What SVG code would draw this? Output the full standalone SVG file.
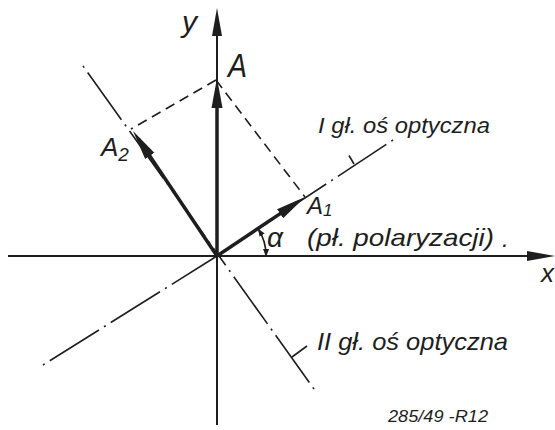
<svg xmlns="http://www.w3.org/2000/svg" width="555" height="430" viewBox="0 0 555 430">
<defs>
<style>
.ax{stroke:#1e1e1e;stroke-width:2;fill:none}
.dd{stroke:#1e1e1e;stroke-width:1.6;fill:none;stroke-dasharray:2 6 58 6}
.pr{stroke:#1e1e1e;stroke-width:1.6;fill:none;stroke-dasharray:10 6}
.vec{stroke:#1e1e1e;stroke-width:3.5;fill:none}
.tk{stroke:#1e1e1e;stroke-width:1.6;fill:none}
text{font-family:"Liberation Sans",Arial,sans-serif;font-style:italic;fill:#1e1e1e}
</style>
<marker id="vh" markerUnits="userSpaceOnUse" viewBox="0 0 30 12" refX="20" refY="6" markerWidth="30" markerHeight="12" orient="auto">
<path d="M0,0.5 L30,6 L0,11.5 Z" fill="#1e1e1e"/>
</marker>
<marker id="axh" markerUnits="userSpaceOnUse" viewBox="0 0 28 11" refX="18" refY="5.5" markerWidth="28" markerHeight="11" orient="auto">
<path d="M0,0.5 L28,5.5 L0,10.5 Z" fill="#1e1e1e"/>
</marker>
<marker id="sh" markerUnits="userSpaceOnUse" viewBox="0 0 8 6" refX="7" refY="3" markerWidth="8" markerHeight="6" orient="auto-start-reverse">
<path d="M0,0 L8,3 L0,6 Z" fill="#1e1e1e"/>
</marker>
</defs>
<rect width="555" height="430" fill="#ffffff"/>

<g id="axes">
<line class="ax" x1="8" y1="256" x2="545" y2="256" marker-end="url(#axh)"/>
<line class="ax" x1="217" y1="425" x2="217" y2="18" marker-end="url(#axh)"/>
</g>

<g id="optical-axes">
<path class="dd" d="M43,365 L217,256"/>
<path class="dd" d="M393,140 L217,256"/>
<path class="dd" d="M83,66 L219,256"/>
<path class="dd" d="M314,389 L219,256"/>
<line class="tk" x1="354" y1="164" x2="349" y2="155.5"/>
<line class="tk" x1="292" y1="357" x2="307" y2="346"/>
</g>

<g id="connectors">
<line class="pr" x1="216" y1="80" x2="305" y2="197"/>
<line class="pr" x1="216" y1="80" x2="131" y2="129"/>
<path class="tk" d="M258.4,229.3 A49,49 0 0 1 266,256" marker-start="url(#sh)" marker-end="url(#sh)"/>
</g>

<g id="vectors">
<line id="vecA" class="vec" x1="217" y1="256" x2="217" y2="88" marker-end="url(#vh)"/>
<line id="vecA1" class="vec" x1="217" y1="256" x2="296.7" y2="202.6" marker-end="url(#vh)"/>
<line id="vecA2" class="vec" x1="217" y1="256" x2="138.6" y2="139.3" marker-end="url(#vh)"/>
</g>

<g id="labels">
<text x="182" y="32" font-size="30">y</text>
<text x="541" y="282" font-size="26">x</text>
<text x="228" y="77" font-size="34" textLength="19" lengthAdjust="spacingAndGlyphs">A</text>
<text x="101" y="156" font-size="26">A<tspan font-size="19" dy="5">2</tspan></text>
<text x="307" y="214" font-size="24">A<tspan font-size="17" dy="2">1</tspan></text>
<text x="267" y="247" font-size="28">α</text>
<text x="307" y="246" font-size="24" textLength="187" lengthAdjust="spacingAndGlyphs">(pł. polaryzacji)</text>
<text x="502" y="247" font-size="24">.</text>
<text x="318" y="133" font-size="22" textLength="172" lengthAdjust="spacingAndGlyphs">I gł. oś optyczna</text>
<text x="317" y="350" font-size="24" textLength="191" lengthAdjust="spacingAndGlyphs">II gł. oś optyczna</text>
<text x="388" y="422" font-size="17" textLength="100" lengthAdjust="spacingAndGlyphs">285/49 -R12</text>
</g>
</svg>
